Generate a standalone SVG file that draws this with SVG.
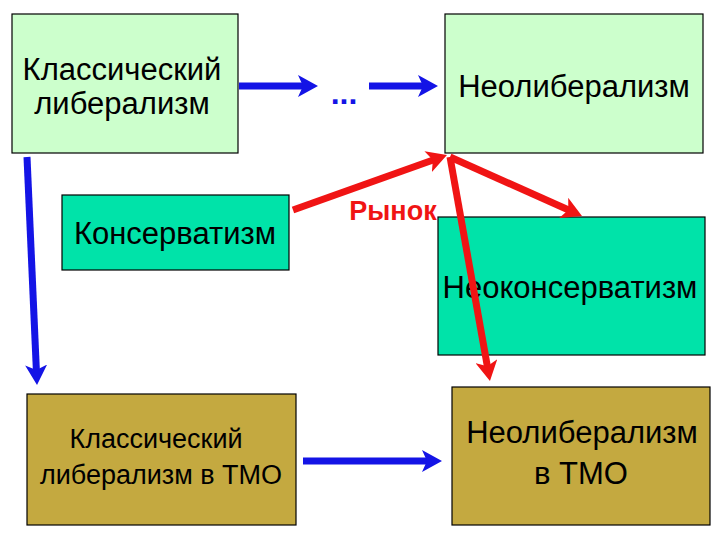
<svg xmlns="http://www.w3.org/2000/svg" width="720" height="540" viewBox="0 0 720 540">
<defs>
<style>
.box{stroke:#000;stroke-width:1.2}
.lg{fill:#ccffcc}
.tl{fill:#00e3a9}
.ol{fill:#c4a940}
.t{font-family:"Liberation Sans",Arial,sans-serif;fill:#000;text-anchor:middle}
.b{stroke:#1414e6;stroke-width:7;fill:none}
.r{stroke:#f01414;stroke-width:7;fill:none}
</style>
<marker id="ab" viewBox="0 0 10 10" preserveAspectRatio="none" refX="3" refY="5" markerWidth="20" markerHeight="22" orient="auto" markerUnits="userSpaceOnUse">
<path d="M0,0 L10,5 L0,10 L2.5,5 Z" fill="#1414e6"/>
</marker>
<marker id="ar" viewBox="0 0 10 10" preserveAspectRatio="none" refX="3" refY="5" markerWidth="20" markerHeight="22" orient="auto" markerUnits="userSpaceOnUse">
<path d="M0,0 L10,5 L0,10 L2.5,5 Z" fill="#f01414"/>
</marker>
</defs>
<rect width="720" height="540" fill="#fff"/>
<g id="n1"><rect class="box lg" x="12" y="14" width="226" height="139"/>
<text class="t" font-size="31"><tspan x="122" y="80">Классический</tspan><tspan x="122" y="114">либерализм</tspan></text></g>
<g id="n2"><rect class="box lg" x="445" y="14" width="258" height="139"/>
<text class="t" font-size="31" x="574" y="97">Неолиберализм</text></g>
<g id="n3"><rect class="box tl" x="62" y="195" width="227" height="75"/>
<text class="t" font-size="31" x="175" y="244">Консерватизм</text></g>
<g id="n4"><rect class="box tl" x="438" y="217" width="267" height="138"/>
<text class="t" font-size="31" x="570" y="298">Неоконсерватизм</text></g>
<g id="n5"><rect class="box ol" x="27" y="394" width="269" height="131"/>
<text class="t" font-size="27"><tspan x="156" y="448">Классический</tspan><tspan x="161" y="484">либерализм в ТМО</tspan></text></g>
<g id="n6"><rect class="box ol" x="452" y="387" width="258" height="138"/>
<text class="t" font-size="31"><tspan x="582" y="443">Неолиберализм</tspan><tspan x="581" y="484">в ТМО</tspan></text></g>
<g id="connectors">
<line class="b" x1="239" y1="86" x2="304" y2="86" marker-end="url(#ab)"/>
<text x="344" y="104" font-family="Liberation Sans,Arial,sans-serif" font-size="32" font-weight="bold" fill="#1414e6" text-anchor="middle">...</text>
<line class="b" x1="369" y1="86" x2="424" y2="86" marker-end="url(#ab)"/>
<line class="b" x1="27" y1="157" x2="36.4" y2="371" marker-end="url(#ab)"/>
<line class="b" x1="303" y1="461" x2="428" y2="461" marker-end="url(#ab)"/>
<line class="r" x1="293" y1="210" x2="433.8" y2="159.7" marker-end="url(#ar)"/>
<line class="r" x1="450" y1="157" x2="569.2" y2="210.3" marker-end="url(#ar)"/>
<line class="r" x1="450" y1="157" x2="487.5" y2="367.2" marker-end="url(#ar)"/>
<text x="393" y="220" font-family="Liberation Sans,Arial,sans-serif" font-size="27" font-weight="bold" fill="#f01414" text-anchor="middle">Рынок</text>
</g>
</svg>
